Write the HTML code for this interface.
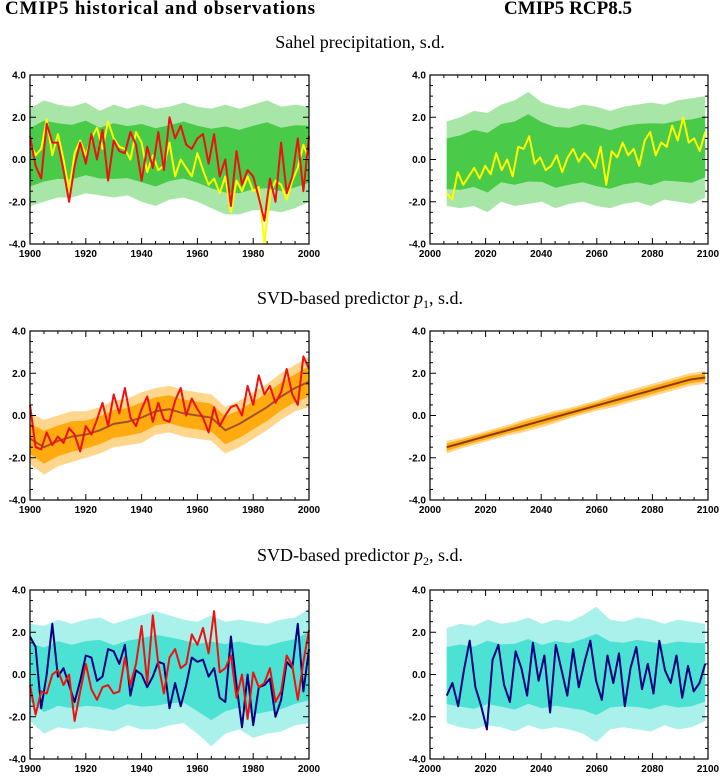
<!DOCTYPE html>
<html><head><meta charset="utf-8"><style>
body{margin:0;background:#fff;width:720px;height:779px;overflow:hidden}
svg{display:block}
.t{font-family:"Liberation Serif",serif;font-weight:bold;font-size:19px}
.s{font-family:"Liberation Serif",serif;font-size:18px}
.tk{font-family:"Liberation Sans",sans-serif;font-size:10px;font-weight:bold}
</style></head><body>
<svg id="c" width="720" height="779" xmlns="http://www.w3.org/2000/svg">
<text class="t" x="160" y="14" text-anchor="middle" textLength="310">CMIP5 historical and observations</text>
<text class="t" x="568" y="14" text-anchor="middle" textLength="128">CMIP5 RCP8.5</text>
<text class="s" x="360" y="48" text-anchor="middle">Sahel precipitation, s.d.</text>
<text class="s" x="360" y="304" text-anchor="middle">SVD-based predictor <tspan font-style="italic">p</tspan><tspan font-size="12" dy="4">1</tspan><tspan dy="-4">, s.d.</tspan></text>
<text class="s" x="360" y="561" text-anchor="middle">SVD-based predictor <tspan font-style="italic">p</tspan><tspan font-size="12" dy="4">2</tspan><tspan dy="-4">, s.d.</tspan></text>
</svg>
<script>
// ---- data ----
const yTicks=[-4,-2,0,2,4];
const yTickLabels=["-4.0","-2.0","0.0","2.0","4.0"];
const histTicks=[1900,1920,1940,1960,1980,2000];
const rcpTicks=[2000,2020,2040,2060,2080,2100];
// Sahel historical
const sahelHistUpper=[2.4,2.8,2.6,2.5,2.7,2.3,2.6,2.4,2.6,2.4,2.5,2.7,2.5,2.4,2.6,2.4,2.6,2.8,2.5,2.6,2.5];
const sahelHistLower=[-2.2,-2.0,-1.8,-1.8,-1.6,-1.7,-1.8,-1.7,-2.0,-2.2,-1.9,-1.8,-2.0,-2.3,-2.6,-2.6,-2.4,-2.4,-2.5,-2.3,-2.0];
const sahelObsRed=[1.1,-0.3,-0.9,1.7,0.8,0.8,-0.5,-2.0,-0.3,0.8,-0.2,1.2,0.0,1.4,-1.0,0.9,0.4,0.3,1.3,0.7,-1.0,0.6,-0.4,1.3,-0.5,2.0,1.0,1.6,0.7,0.5,1.0,1.2,-0.2,1.2,-0.8,0.0,-2.2,0.4,-1.2,-0.5,-0.8,-1.8,-2.9,-0.9,-2.0,0.8,-1.6,-0.8,1.0,-1.5,1.1];
const sahelObsYellow=[0.8,0.2,0.5,1.9,0.2,1.2,0.0,-1.5,0.3,0.9,0.2,1.0,1.5,0.5,1.8,1.0,0.6,0.5,0.0,1.3,0.8,-0.6,0.2,-0.5,-0.3,0.8,-0.8,0.0,-0.4,-0.8,0.3,-0.5,-1.2,-0.9,-1.6,-0.8,-2.5,-1.0,-1.5,-0.8,-1.5,-1.3,-4.0,-1.6,-1.0,-1.2,-1.9,-1.0,-0.4,0.7,0.0];
// Sahel RCP8.5
const sahelRcpUpper=[1.8,2.0,2.3,2.2,2.6,2.8,3.2,2.7,2.5,2.4,2.6,2.5,2.3,2.5,2.6,2.7,2.6,2.8,2.9,3.0];
const sahelRcpLower=[-2.2,-2.3,-2.2,-2.5,-2.0,-2.2,-2.1,-2.0,-2.3,-2.1,-2.0,-2.2,-2.3,-2.1,-2.0,-2.2,-1.9,-2.0,-2.1,-1.8];
const sahelRcpYellow=[-1.6,-1.9,-0.6,-1.2,-0.8,-0.4,-0.9,-0.3,-0.7,0.3,-0.5,0.0,-0.8,0.6,0.5,1.1,-0.2,0.1,-0.5,-0.3,0.2,-0.6,0.1,0.5,-0.1,0.3,0.0,-0.4,0.6,-1.2,0.4,0.1,0.8,0.2,0.5,-0.3,0.9,1.3,0.2,0.8,0.6,1.6,0.9,2.0,0.8,1.0,0.4,1.3];
// p1 historical
const p1HistMean=[-1.1,-1.5,-1.2,-1.0,-0.9,-0.7,-0.4,-0.3,-0.1,0.2,0.3,0.1,0.0,-0.1,-0.7,-0.4,0.0,0.4,0.9,1.3,1.6];
const p1HistSpread=[1.2,1.3,1.2,1.2,1.1,1.1,1.1,1.1,1.2,1.1,1.1,1.1,1.1,1.1,1.1,1.1,1.1,1.1,1.1,1.1,1.2];
const p1ObsRed=[0.5,-1.5,-1.6,-0.8,-1.4,-1.0,-1.3,-0.6,-0.9,-1.7,-0.5,-0.9,-0.2,0.6,-0.5,1.0,0.1,1.3,-0.1,-0.5,0.3,0.9,-0.3,0.6,-0.2,-0.3,0.7,1.3,0.0,0.8,0.3,-0.1,-0.8,0.4,-0.5,0.0,0.4,0.5,0.0,1.4,0.5,1.9,1.0,1.4,0.6,1.1,2.2,1.0,0.5,2.8,2.2];
// p1 RCP8.5
const p1RcpMean=[-1.5,-1.3,-1.1,-0.9,-0.7,-0.5,-0.3,-0.1,0.1,0.3,0.5,0.7,0.9,1.1,1.3,1.5,1.7,1.8];
const p1RcpSpread=[0.3,0.25,0.25,0.25,0.25,0.3,0.3,0.3,0.25,0.25,0.25,0.3,0.3,0.3,0.3,0.3,0.3,0.3];
// p2 historical
const p2HistUpper=[2.4,2.3,2.6,2.4,2.6,2.7,2.4,2.6,2.8,3.0,2.8,2.6,2.5,2.8,2.5,2.6,2.5,2.4,2.6,2.7,3.1];
const p2HistLower=[-2.2,-2.8,-2.5,-2.6,-2.5,-2.6,-2.7,-2.4,-2.6,-2.6,-2.4,-2.3,-2.8,-3.4,-2.8,-2.6,-3.0,-2.8,-2.7,-2.4,-2.3];
const p2Navy=[1.8,1.3,-1.6,0.0,2.4,-0.1,0.3,-0.5,-1.3,-0.3,0.9,0.8,-0.3,-0.1,1.2,1.1,0.5,1.4,-1.0,0.2,0.0,-0.6,-0.1,0.6,0.5,-1.6,-0.4,-1.5,-0.5,0.8,0.6,0.7,-0.1,0.3,-1.1,-1.3,1.8,-0.5,-2.5,0.0,-2.4,-0.6,-0.5,-0.2,-2.0,-1.2,0.6,0.3,2.4,-0.8,1.2];
const p2Red=[-0.5,-1.9,-0.8,-0.9,0.0,0.2,-0.5,0.0,-2.2,-0.8,0.5,-0.7,-1.2,-0.6,-0.5,-0.9,-0.8,0.8,-0.5,0.5,2.3,-0.4,2.8,0.5,-0.9,0.8,1.2,0.3,0.5,1.9,1.4,2.2,1.0,3.0,0.1,0.3,0.9,-1.1,0.0,-2.1,0.1,-0.6,-0.4,0.3,-1.3,-0.8,0.9,0.4,-1.2,0.6,2.1];
// p2 RCP8.5
const p2RcpUpper=[2.2,2.4,2.3,2.6,2.4,2.5,2.7,2.4,2.6,2.5,2.8,3.2,2.6,2.5,2.7,2.6,2.4,2.6,2.5,2.4];
const p2RcpLower=[-2.3,-2.5,-2.6,-2.4,-2.5,-2.7,-2.4,-2.6,-2.5,-2.6,-2.8,-3.2,-2.6,-2.5,-2.6,-2.7,-2.4,-2.6,-2.5,-2.2];
const p2RcpNavy=[-1.0,-0.4,-1.5,0.2,1.6,-0.6,-1.5,-2.6,0.7,1.4,-0.5,-1.3,1.1,0.3,-1.0,1.5,-0.3,0.9,-1.8,1.4,0.2,-1.0,1.2,-0.6,0.6,1.6,-0.3,-1.2,0.9,-0.4,1.0,-1.5,0.3,1.3,-0.7,0.5,-0.9,1.6,0.2,-0.4,0.9,-1.1,0.4,-0.8,-0.4,0.5];

// ---- drawing ----
const NS="http://www.w3.org/2000/svg";
const svg=document.getElementById('c');
function mk(tag,attrs,parent){const e=document.createElementNS(NS,tag);for(const k in attrs)e.setAttribute(k,attrs[k]);(parent||svg).appendChild(e);return e;}
function panel(name,x0,x1,y0,y1,xmin,xmax,xticks){
  const g=mk('g',{});
  
  
  const sx=v=>x0+(v-xmin)/(xmax-xmin)*(x1-x0);
  const sy=v=>y1-(v+4)/8*(y1-y0);
  return {g,sx,sy,x0,x1,y0,y1,xmin,xmax,xticks};
}
function yearsOf(arr,a,b){const n=arr.length;return arr.map((_,i)=>a+(b-a)*i/(n-1));}
function bandPath(P,up,lo,a,b,color,op,name){
  const xs=yearsOf(up,a,b);
  let d='M'+xs.map((x,i)=>P.sx(x).toFixed(1)+','+P.sy(up[i]).toFixed(1)).join('L');
  d+='L'+xs.map((x,i)=>[x,lo[i]]).reverse().map(p=>P.sx(p[0]).toFixed(1)+','+P.sy(p[1]).toFixed(1)).join('L')+'Z';
  const e=mk('path',{d,fill:color,'fill-opacity':op,stroke:'none'},P.g);
  
  
}
function band(P,up,lo,a,b,color,name){
  bandPath(P,up,lo,a,b,color,0.45,name);
  const mid=up.map((u,i)=>(u+lo[i])/2);
  bandPath(P,up.map((u,i)=>mid[i]+(u-mid[i])*0.6),lo.map((l,i)=>mid[i]+(l-mid[i])*0.6),a,b,color,0.9,name+'-core');
}
function meanBand(P,mean,spr,a,b,color,name){
  band(P,mean.map((m,i)=>m+spr[i]),mean.map((m,i)=>m-spr[i]),a,b,color,name);
}
function line(P,arr,a,b,color,w,name){
  const xs=yearsOf(arr,a,b);
  const d='M'+xs.map((x,i)=>P.sx(x).toFixed(1)+','+P.sy(arr[i]).toFixed(1)).join('L');
  const e=mk('path',{d,fill:'none',stroke:color,'stroke-width':w,'stroke-linejoin':'round'},P.g);
  
  
}
function axes(P){
  const g=P.g;
  mk('rect',{x:P.x0,y:P.y0,width:P.x1-P.x0,height:P.y1-P.y0,fill:'none',stroke:'#000','stroke-width':1.2},g);
  for(let v=P.xmin;v<=P.xmax;v+=5){
    const L=(v%20===0)?6:3;const x=P.sx(v);
    mk('line',{x1:x,x2:x,y1:P.y1,y2:P.y1-L,stroke:'#000','stroke-width':1},g);
    mk('line',{x1:x,x2:x,y1:P.y0,y2:P.y0+L,stroke:'#000','stroke-width':1},g);
  }
  for(let v=-4;v<=4;v+=0.5){
    const L=(Math.abs(v%2)<1e-9)?6:3;const y=P.sy(v);
    mk('line',{x1:P.x0,x2:P.x0+L,y1:y,y2:y,stroke:'#000','stroke-width':1},g);
    mk('line',{x1:P.x1,x2:P.x1-L,y1:y,y2:y,stroke:'#000','stroke-width':1},g);
  }
  yTicks.forEach((v,i)=>{
    const t=mk('text',{x:P.x0-4,y:P.sy(v)+3.5,'text-anchor':'end',class:'tk'},g);
    t.textContent=yTickLabels[i];
    
    
  });
  P.xticks.forEach(v=>{
    const t=mk('text',{x:P.sx(v),y:P.y1+13,'text-anchor':'middle',class:'tk'},g);
    t.textContent=String(v);
    
    
  });
}
const LX0=30,LX1=309,RX0=430,RX1=708;
const rows=[[75,244],[331,500],[590,759]];
// Sahel hist
let P=panel('sahel-historical-panel',LX0,LX1,rows[0][0],rows[0][1],1900,2000,histTicks);
band(P,sahelHistUpper,sahelHistLower,1900,2000,'#3ec73e','ensemble-spread');
line(P,sahelObsYellow,1900,2000,'#ffff00',2,'obs-yellow-line');
line(P,sahelObsRed,1900,2000,'#ee1111',2,'obs-red-line');
axes(P);
// Sahel rcp
P=panel('sahel-rcp85-panel',RX0,RX1,rows[0][0],rows[0][1],2000,2100,rcpTicks);
band(P,sahelRcpUpper,sahelRcpLower,2006,2099,'#3ec73e','ensemble-spread');
line(P,sahelRcpYellow,2006,2099,'#ffff00',2,'ensemble-mean-yellow-line');
axes(P);
// p1 hist
P=panel('p1-historical-panel',LX0,LX1,rows[1][0],rows[1][1],1900,2000,histTicks);
meanBand(P,p1HistMean,p1HistSpread,1900,2000,'#ffa500','ensemble-spread');
line(P,p1HistMean,1900,2000,'#a0522d',2,'ensemble-mean-line');
line(P,p1ObsRed,1900,2000,'#ee1111',2,'obs-red-line');
axes(P);
// p1 rcp
P=panel('p1-rcp85-panel',RX0,RX1,rows[1][0],rows[1][1],2000,2100,rcpTicks);
meanBand(P,p1RcpMean,p1RcpSpread,2006,2099,'#ffa500','ensemble-spread');
line(P,p1RcpMean,2006,2099,'#8b3a0e',2,'ensemble-mean-line');
axes(P);
// p2 hist
P=panel('p2-historical-panel',LX0,LX1,rows[2][0],rows[2][1],1900,2000,histTicks);
band(P,p2HistUpper,p2HistLower,1900,2000,'#40e0d0','ensemble-spread');
line(P,p2Navy,1900,2000,'#000080',2,'navy-line');
line(P,p2Red,1900,2000,'#ee1111',2,'obs-red-line');
axes(P);
// p2 rcp
P=panel('p2-rcp85-panel',RX0,RX1,rows[2][0],rows[2][1],2000,2100,rcpTicks);
band(P,p2RcpUpper,p2RcpLower,2006,2099,'#40e0d0','ensemble-spread');
line(P,p2RcpNavy,2006,2099,'#000080',2,'navy-line');
axes(P);
</script>
</body></html>
